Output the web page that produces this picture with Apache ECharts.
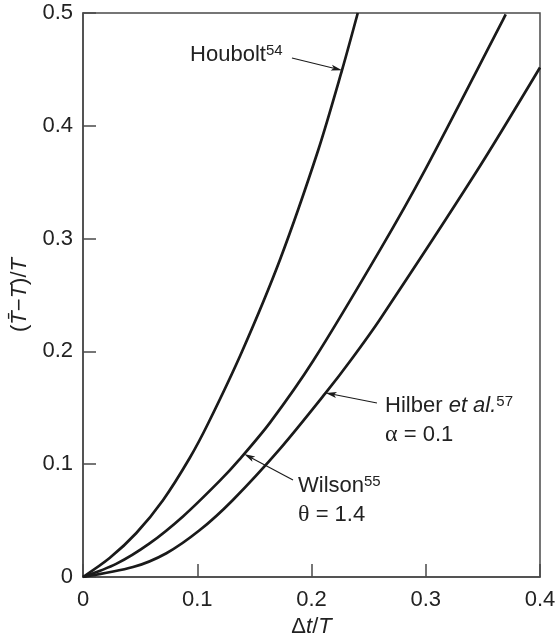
<!DOCTYPE html>
<html>
<head>
<meta charset="utf-8">
<script src="https://cdn.jsdelivr.net/npm/echarts@6/dist/echarts.min.js"></script>
<style>
  html, body { margin: 0; padding: 0; background: #fff; }
  #chart { width: 558px; height: 635px; }
</style>
</head>
<body>
<div id="chart"></div>
<script>
// Axis ranges and tick steps
const xTickValues = [0, 0.1, 0.2, 0.3, 0.4];
const yTickValues = [0, 0.1, 0.2, 0.3, 0.4, 0.5];

// Period elongation (T̄−T)/T versus Δt/T for three integration schemes
const houboltX = [0, 0.0233, 0.0467, 0.070, 0.0934, 0.1097, 0.139, 0.1724, 0.2057, 0.2267, 0.2405];
const houboltY = [0, 0.0168, 0.039, 0.0681, 0.1055, 0.1365, 0.1995, 0.2813, 0.3779, 0.4493, 0.5];

const wilsonX = [0, 0.029, 0.0583, 0.0875, 0.1196, 0.137, 0.1637, 0.2015, 0.260, 0.2993, 0.3676, 0.370];
const wilsonY = [0, 0.0116, 0.0298, 0.0537, 0.0852, 0.1043, 0.1369, 0.1917, 0.290, 0.3607, 0.4939, 0.4987];

const hilberX = [0, 0.0438, 0.073, 0.102, 0.131, 0.1724, 0.2124, 0.2337, 0.260, 0.3446, 0.400];
const hilberY = [0, 0.0088, 0.0211, 0.0414, 0.0681, 0.1136, 0.1632, 0.1913, 0.2286, 0.3597, 0.4517];

// Curve captions: text anchor (left edge, first-line centre) and arrow from -> to, in data units
const captions = [
  { text: '{n|Houbolt}{s|54}', at: [0.0937, 0.4628], from: [0.1829, 0.4601], to: [0.2267, 0.4493] },
  { text: '{n|Hilber }{it|et al.}{s|57}\n{g|α}{n| = 0.1}', at: [0.2644, 0.1516], from: [0.2573, 0.1543], to: [0.2124, 0.1632] },
  { text: '{n|Wilson}{s|55}\n{g|θ}{n| = 1.4}', at: [0.1882, 0.0807], from: [0.1838, 0.0860], to: [0.141, 0.109] }
];

const SANS = '"Liberation Sans", Arial, Helvetica, sans-serif';
const SERIF = '"Liberation Serif", "Times New Roman", serif';
const INK = '#1a1a1a';
const FRAME = '#4a4a4a';
const FS = 22;

function pairs(xs, ys) { return xs.map((x, i) => [x, ys[i]]); }

function curve(name, xs, ys) {
  return {
    name, type: 'line', data: pairs(xs, ys),
    smooth: 0.3, showSymbol: false, symbol: 'none',
    lineStyle: { color: INK, width: 2.7 }, clip: true, animation: false
  };
}

const chart = echarts.init(document.getElementById('chart'), null, { renderer: 'canvas' });

const axisCommon = {
  type: 'value',
  axisLine: { show: true, lineStyle: { color: FRAME, width: 1.5 } },
  axisTick: { show: true, inside: true, length: 13, lineStyle: { color: FRAME, width: 1.5 } },
  splitLine: { show: false },
  axisLabel: {
    color: '#222', fontSize: FS, fontFamily: SANS,
    formatter: v => (v === 0 ? '0' : v.toFixed(1))
  },
  nameLocation: 'middle',
  nameTextStyle: {
    color: '#222', fontSize: FS, fontFamily: SANS,
    rich: { i: { fontStyle: 'italic', fontSize: FS, fontFamily: SANS, color: '#222' } }
  }
};

chart.setOption({
  animation: false,
  backgroundColor: '#fff',
  grid: {
    left: 83, right: 18, top: 13, bottom: 58,
    outerBoundsMode: 'none', containLabel: false,
    show: true, borderColor: FRAME, borderWidth: 1.5, backgroundColor: 'transparent'
  },
  xAxis: Object.assign({}, axisCommon, {
    min: xTickValues[0], max: xTickValues[xTickValues.length - 1], interval: 0.1,
    name: 'Δ{i|t}/{i|T}', nameGap: 36,
    axisLabel: Object.assign({}, axisCommon.axisLabel, { margin: 12 })
  }),
  yAxis: Object.assign({}, axisCommon, {
    min: yTickValues[0], max: yTickValues[yTickValues.length - 1], interval: 0.1,
    name: '({i|T\u0304}−{i|T})/{i|T}', nameGap: 52, nameRotate: 90,
    axisLabel: Object.assign({}, axisCommon.axisLabel, { margin: 10 })
  }),
  series: [
    curve('Houbolt', houboltX, houboltY),
    curve('Wilson', wilsonX, wilsonY),
    curve('Hilber', hilberX, hilberY)
  ]
});

// Captions and pointer arrows, placed through the chart's own coordinate system
function toPx(p) { return chart.convertToPixel({ gridIndex: 0 }, p); }

function arrowHead(tip, tail) {
  const dx = tip[0] - tail[0], dy = tip[1] - tail[1];
  const len = Math.hypot(dx, dy), ux = dx / len, uy = dy / len;
  const L = 11, W = 3, N = 8.5;
  const bx = tip[0] - ux * L, by = tip[1] - uy * L;
  return [
    tip,
    [bx - uy * W, by + ux * W],
    [tip[0] - ux * N, tip[1] - uy * N],
    [bx + uy * W, by - ux * W]
  ];
}

const LH = 29;
const rich = {
  n: { fontSize: FS, fontFamily: SANS, fill: '#222', lineHeight: LH },
  it: { fontSize: FS, fontFamily: SANS, fontStyle: 'italic', fill: '#222', lineHeight: LH },
  g: { fontSize: FS + 2, fontFamily: SERIF, fill: '#222', lineHeight: LH },
  s: { fontSize: 15, fontFamily: SANS, fill: '#222', lineHeight: LH, verticalAlign: 'top', padding: [3, 0, 0, 0] }
};

const elements = [];
captions.forEach(c => {
  const at = toPx(c.at), from = toPx(c.from), to = toPx(c.to);
  elements.push({
    type: 'text', x: at[0], y: at[1] - LH / 2, silent: true,
    style: { text: c.text, rich, align: 'left', verticalAlign: 'top' }
  });
  const head = arrowHead(to, from);
  elements.push({
    type: 'line', silent: true,
    shape: { x1: from[0], y1: from[1], x2: head[2][0], y2: head[2][1] },
    style: { stroke: INK, lineWidth: 1.1 }
  });
  elements.push({
    type: 'polygon', silent: true,
    shape: { points: head },
    style: { fill: INK }
  });
});
chart.setOption({ graphic: { elements } });
</script>
</body>
</html>
